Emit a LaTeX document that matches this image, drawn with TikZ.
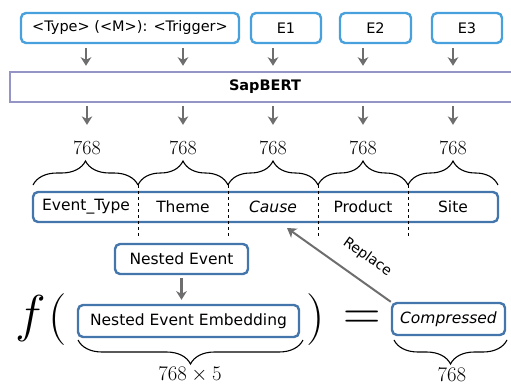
\documentclass[tikz,border=0pt]{standalone}
\usepackage{graphicx}
\usepackage{fontspec}
\setmainfont{DejaVu Sans}
\usetikzlibrary{arrows.meta,decorations.pathreplacing,calc}
\definecolor{lblue}{RGB}{72,160,220}
\definecolor{sblue}{RGB}{68,118,172}
\definecolor{sapc}{RGB}{148,148,198}
\definecolor{arrg}{RGB}{110,110,110}
\newcommand{\lm}{\fontspec{Latin Modern Roman}}
\newcommand{\hugemath}[1]{\scalebox{2.5}{\fontsize{20.74}{22}\selectfont$#1$}}
\begin{document}
\begin{tikzpicture}[x=1pt,y=-1pt,
  txt/.style={font=\fontsize{15.5}{17}\selectfont},
  topbox/.style={font=\fontsize{14.5}{16}\selectfont, draw=lblue, line width=2.4pt, rounded corners=5pt, minimum height=30pt, inner sep=0pt},
  bluebox/.style={txt, draw=sblue, line width=2.4pt, rounded corners=5pt, inner sep=0pt},
  arr/.style={draw=arrg, line width=2.2pt, -{Stealth[length=8.5pt,width=10.5pt,inset=2.5pt]}},
  brc/.style={decorate, decoration={brace, amplitude=24pt, aspect=0.5}, line width=1.1pt},
  num/.style={font=\fontsize{20}{22}\selectfont, inner sep=0pt},
  colt/.style={txt, inner sep=0pt},
  big/.style={inner sep=0pt}
]
\useasboundingbox (0,0) rectangle (511,385);
% top boxes
\node[topbox, minimum width=218pt] (t1) at (130,28) {<Type> (<M>): <Trigger>};
\node[topbox, minimum width=70pt] (e1) at (286,28) {E1};
\node[topbox, minimum width=71pt] (e2) at (375.5,28) {E2};
\node[topbox, minimum width=70pt] (e3) at (467,28) {E3};
% SapBERT
\node[draw=sapc, line width=2.4pt, minimum height=30pt, minimum width=510pt, inner sep=0pt, font=\fontsize{14.5}{16}\selectfont\bfseries] (sap) at (265,87) {SapBERT};
% row box
\node[bluebox, minimum width=465pt, minimum height=30pt] (row) at (265.5,207) {};
\node[colt] (c1) at (86,207) {Event\_Type};
\node[colt] (c2) at (183,207) {Theme};
\node[colt] (c3) at (273,207) {\itshape Cause};
\node[colt] (c4) at (363,207) {Product};
\node[colt] (c5) at (453,207) {Site};
% 768 labels
\foreach \i/\x in {1/87,2/183,3/273,4/363,5/453}{
  \node[num] (n\i) at (\x,148) {\lm 768};
}
% arrows top
\draw[arr, shorten <=4pt, shorten >=5pt] (t1.south -| c1) -- (sap.north -| c1);
\draw[arr, shorten <=4pt, shorten >=5pt] (t1.south -| c2) -- (sap.north -| c2);
\draw[arr, shorten <=4pt, shorten >=5pt] (e1.south -| c3) -- (sap.north -| c3);
\draw[arr, shorten <=4pt, shorten >=5pt] (e2.south -| c4) -- (sap.north -| c4);
\draw[arr, shorten <=4pt, shorten >=5pt] (e3.south -| c5) -- (sap.north -| c5);
% arrows below sap
\foreach \i in {1,...,5}{
  \draw[arr, shorten <=3pt, shorten >=16pt] (sap.south -| n\i) -- (n\i.north);
}
% braces
\coordinate (b0) at (33,185);
\coordinate (b1) at (138,185);
\coordinate (b2) at (228,185);
\coordinate (b3) at (318,185);
\coordinate (b4) at (408,185);
\coordinate (b5) at (498,185);
\draw[brc] (b0) -- (b1);
\draw[brc] (b1) -- (b2);
\draw[brc] (b2) -- (b3);
\draw[brc] (b3) -- (b4);
\draw[brc] (b4) -- (b5);
% dashed dividers
\foreach \i in {1,...,4}{
  \draw[dashed, line width=0.9pt] (b\i) -- ++(0,53);
}
% nested
\node[bluebox, minimum width=133pt, minimum height=30pt] (nest) at (181.5,259) {Nested Event};
\node[bluebox, minimum width=221pt, minimum height=32pt] (nee) at (188.5,321) {Nested Event Embedding};
\draw[arr, shorten <=3pt, shorten >=4pt] (nest.south) -- (nest.south |- nee.north);
\node[bluebox, minimum width=113pt, minimum height=32pt] (comp) at (448.5,319) {\itshape Compressed};
% f( ) =
\node[big] (f) at (31,319) {\hugemath{f}};
\node[big] (lp) at (58,320) {\hugemath{(}};
\node[big] (rp) at (316,320) {\hugemath{)}};
\node[big] (eq) at (362,320) {\hugemath{=}};
% bottom braces
\coordinate (d0) at (78,340);
\coordinate (d1) at (303,340);
\coordinate (d2) at (394,340);
\coordinate (d3) at (507,340);
\draw[brc] (d1) -- (d0);
\draw[brc] (d3) -- (d2);
\node[num] (m1) at (190,375) {$768\times5$};
\node[num] (m2) at (452,375) {$768$};
% replace arrow
\coordinate (rtip) at (287,228);
\draw[draw=arrg, line width=2pt, -{Stealth[length=9pt,width=11pt,inset=2.5pt]}] (comp.north west) -- node[pos=0.354, rotate=-35.5, anchor=south, inner sep=0pt, yshift=15pt, font=\fontsize{14}{16}\selectfont] (rl) {Replace} (rtip);
\end{tikzpicture}
\end{document}
